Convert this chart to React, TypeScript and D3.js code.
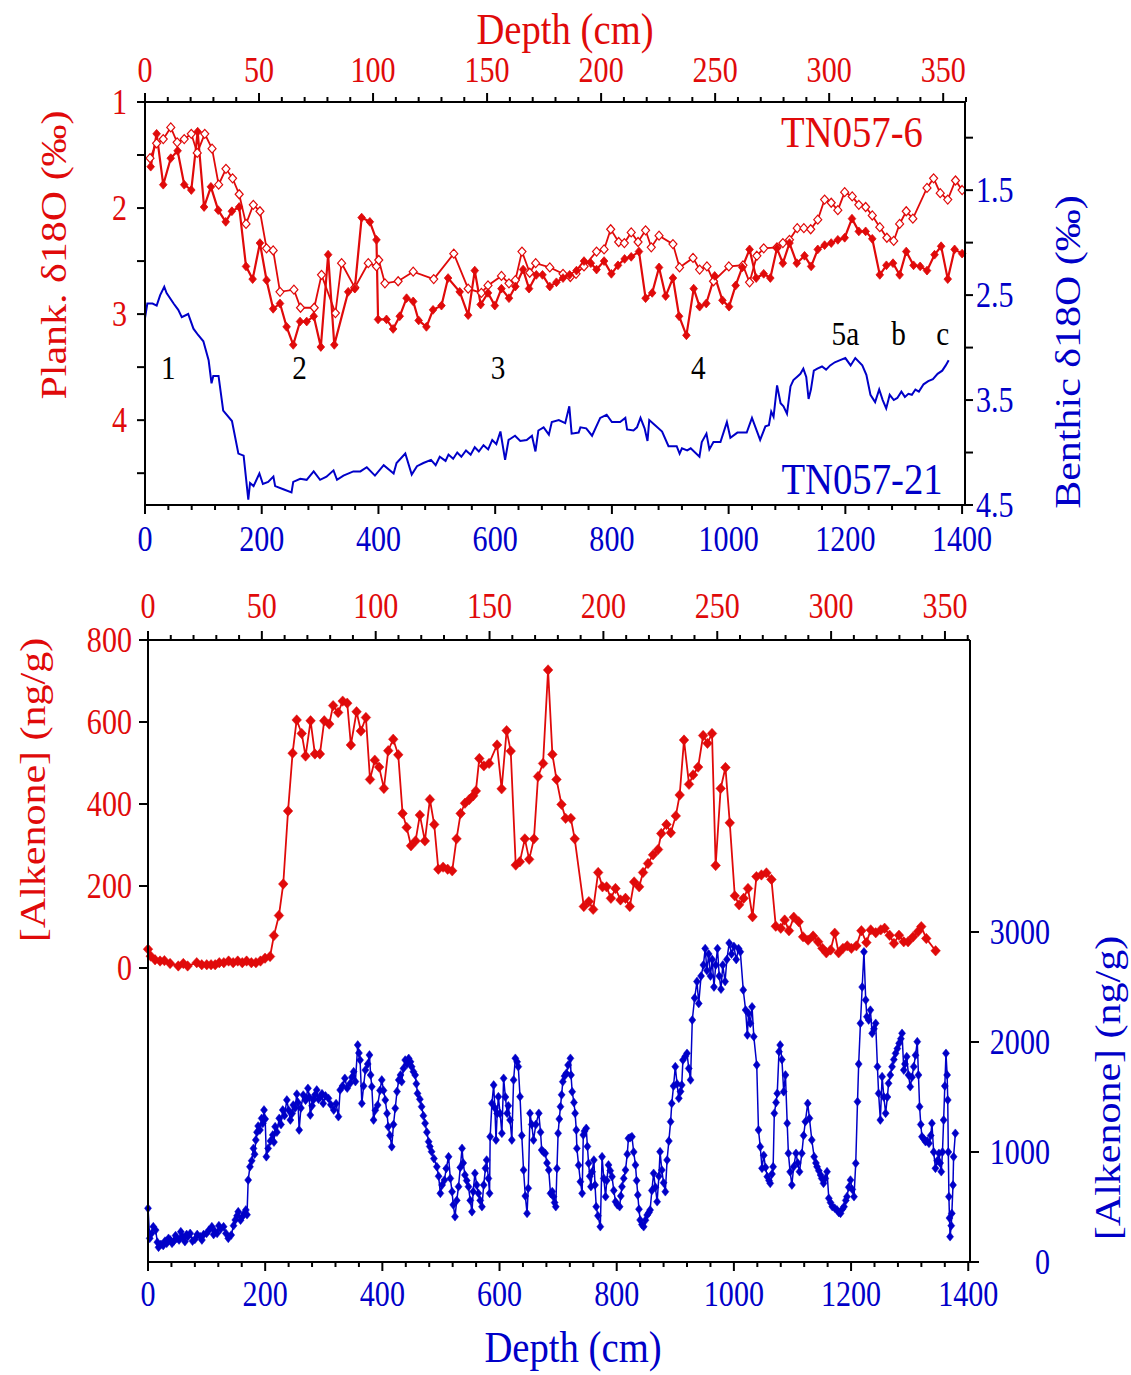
import React from "react";
import * as d3 from "d3";

// ---------- DATA ----------
// Top panel, TN057-6 planktonic δ18O (depth cm on top axis, ‰)
const plankFilled: [number, number][] = [
  [2.5,1.61],[5.1,1.30],[8.0,1.78],[11.3,1.53],[14.3,1.46],[17.2,1.78],[20.3,1.83],[23.1,1.28],[25.9,1.99],[28.9,1.80],
  [32.1,2.02],[35.4,2.13],[38.1,2.03],[41.3,1.99],[44.3,2.55],[47.2,2.67],[50.4,2.33],[53.3,2.68],[56.2,2.95],[59.2,2.90],
  [62.1,3.12],[65.0,3.29],[68.0,3.07],[70.9,3.07],[74.0,3.02],[77.1,3.31],[80.3,2.44],[83.0,3.29],[89.1,2.79],[92.0,2.76],
  [95.0,2.09],[98.6,2.13],[101.5,2.30],[102.2,3.05],[105.9,3.05],[108.8,3.14],[111.7,3.02],[114.7,2.85],[117.6,2.88],[120.0,3.06],
  [123.4,3.12],[126.3,2.96],[130,2.92],[132.9,2.66],[138,2.79],[141.7,3.01],[144.6,2.59],[147.2,2.91],[150.4,2.80],[153.4,2.92],
  [156.3,2.76],[159.6,2.85],[162.4,2.74],[165.8,2.58],[168.4,2.76],[171.6,2.63],[174.3,2.63],[177.5,2.74],[180.4,2.70],[183.3,2.66],
  [186.2,2.63],[189.2,2.59],[192.5,2.50],[195.5,2.52],[198,2.58],[201.3,2.50],[204.5,2.62],[207.4,2.54],[210.3,2.48],[213.2,2.46],
  [216.6,2.41],[219.5,2.85],[222.4,2.80],[225.4,2.56],[228.3,2.83],[231.5,2.66],[234.2,3.02],[237.4,3.20],[240.6,2.76],[243.2,2.93],
  [246.1,2.90],[249.8,2.64],[253.2,2.87],[256.1,2.93],[259,2.73],[261.9,2.56],[265.1,2.39],[268,2.66],[271.3,2.62],[274.2,2.66],
  [277.1,2.38],[279.7,2.52],[282.6,2.33],[285.8,2.52],[289.2,2.45],[292.1,2.55],[295,2.39],[298,2.35],[300.9,2.33],[303.8,2.30],
  [306.8,2.28],[310,2.10],[313,2.22],[316,2.22],[318.9,2.29],[322.2,2.63],[325.1,2.54],[328,2.52],[330.9,2.63],[333.8,2.41],
  [337,2.54],[339.9,2.55],[342.9,2.59],[346.2,2.44],[349.1,2.36],[352,2.67],[355,2.39],[358.3,2.43]
];
const plankOpen: [number, number][] = [
  [2.2,1.53],[5.1,1.39],[8.0,1.35],[11.3,1.24],[14.1,1.38],[17.2,1.35],[20.3,1.30],[22.9,1.48],[26.2,1.30],[29.4,1.44],
  [32.3,1.78],[35.5,1.63],[38.4,1.72],[41.3,1.87],[44.3,2.15],[47.5,1.97],[50.4,2.03],[53.3,2.38],[56.2,2.40],[59.2,2.79],
  [65.3,2.77],[68.2,2.94],[74.2,2.94],[77.4,2.63],[83.5,2.99],[86.2,2.52],[92.0,2.75],[97.9,2.52],[101.5,2.55],[102.5,2.49],
  [105.2,2.71],[111.0,2.69],[117.6,2.60],[126.6,2.67],[135.4,2.43],[141.7,2.76],[147.5,2.80],[150.4,2.73],[156.3,2.64],[159.6,2.71],
  [162.4,2.68],[165.3,2.41],[168.7,2.61],[171.3,2.52],[177.5,2.56],[183.3,2.62],[186.5,2.65],[189,2.62],[192.5,2.55],[198,2.41],
  [201.3,2.39],[204.2,2.20],[207.7,2.32],[210.2,2.33],[213.2,2.23],[216.2,2.32],[219.5,2.21],[222,2.37],[225.4,2.26],[231.5,2.34],
  [234.4,2.56],[240.3,2.47],[243.2,2.58],[246.4,2.55],[249.3,2.69],[256,2.55],[262.2,2.54],[265.1,2.70],[268.3,2.45],[271.3,2.38],
  [277.1,2.37],[279.7,2.33],[282.6,2.30],[286,2.19],[288.9,2.19],[291.9,2.20],[295,2.11],[298,1.92],[300.9,1.95],[303.8,2.02],
  [306.8,1.85],[310.1,1.89],[313,1.97],[316,1.99],[318.9,2.07],[322.2,2.18],[325.3,2.28],[328.3,2.31],[330.9,2.15],[333.8,2.03],
  [336.7,2.10],[342.9,1.81],[345.8,1.72],[348.7,1.86],[352,1.92],[355.4,1.74],[358.3,1.83]
];
// Top panel, TN057-21 benthic δ18O (depth cm on bottom axis, ‰)
const benthic: [number, number][] = [
  [0,2.72],[4,2.58],[13,2.58],[20,2.60],[26,2.50],[33,2.42],[37,2.48],[49,2.58],[57,2.64],[63,2.71],[74,2.68],[83,2.82],
  [91,2.88],[100,2.94],[109,3.12],[114,3.34],[117,3.27],[126,3.27],[134,3.60],[149,3.70],[160,4.01],[169,4.03],[177,4.45],
  [180,4.29],[186,4.32],[196,4.20],[202,4.30],[211,4.28],[220,4.23],[223,4.32],[237,4.35],[251,4.38],[254,4.28],[266,4.25],
  [277,4.26],[289,4.18],[300,4.26],[311,4.23],[323,4.17],[329,4.26],[340,4.22],[357,4.18],[369,4.18],[380,4.14],[394,4.22],
  [409,4.12],[426,4.20],[431,4.10],[446,4.01],[457,4.21],[466,4.13],[477,4.10],[490,4.07],[498,4.12],[505,4.04],[515,4.08],
  [520,4.02],[528,4.06],[535,4.00],[542,4.04],[550,3.98],[558,4.02],[565,3.95],[572,3.99],[580,3.93],[588,3.97],[595,3.88],
  [602,3.92],[609,3.80],[617,4.07],[623,3.88],[634,3.84],[643,3.89],[654,3.88],[663,3.84],[669,3.99],[674,3.79],[683,3.76],
  [692,3.83],[697,3.71],[709,3.69],[720,3.72],[727,3.56],[731,3.82],[743,3.81],[746,3.76],[756,3.77],[766,3.84],[780,3.67],
  [791,3.64],[800,3.71],[814,3.71],[823,3.67],[826,3.78],[837,3.79],[843,3.76],[849,3.67],[856,3.77],[861,3.89],[864,3.69],
  [874,3.74],[886,3.80],[897,3.94],[911,3.94],[916,4.01],[920,3.96],[929,3.98],[935,3.96],[950,4.04],[954,3.90],[962,3.82],
  [967,3.97],[974,3.90],[986,3.90],[997,3.71],[1003,3.86],[1015,3.81],[1031,3.81],[1040,3.67],[1054,3.88],[1063,3.75],
  [1069,3.74],[1073,3.61],[1077,3.66],[1083,3.36],[1089,3.53],[1094,3.56],[1100,3.63],[1106,3.37],[1111,3.31],[1117,3.28],
  [1123,3.25],[1128,3.20],[1133,3.28],[1137,3.49],[1141,3.40],[1146,3.22],[1152,3.20],[1160,3.18],[1167,3.21],[1174,3.17],
  [1182,3.14],[1191,3.12],[1200,3.10],[1209,3.17],[1217,3.10],[1229,3.17],[1236,3.26],[1243,3.45],[1251,3.52],[1258,3.40],
  [1264,3.50],[1270,3.58],[1276,3.45],[1283,3.50],[1289,3.48],[1296,3.42],[1302,3.47],[1308,3.44],[1314,3.45],[1320,3.40],
  [1326,3.42],[1334,3.35],[1342,3.32],[1350,3.30],[1358,3.25],[1366,3.22],[1372,3.17],[1377,3.12]
];
// Bottom panel, TN057-6 alkenone (depth cm on top axis, ng/g)
const alkRed: [number, number][] = [
  [0,46],[1.2,29],[3.1,20],[5.3,17],[7.2,18],[9.7,11],[13.3,5],[15.5,11],[17.4,5],[21.4,13],[23.6,8],[25.8,8],[27.7,8],
  [29.5,8],[31.3,13],[33.3,13],[35.4,17],[37.4,13],[39.4,17],[41.4,13],[43.3,17],[45.4,13],[47.4,13],[49.4,17],[51.4,24],
  [53.6,28],[55.3,79],[57.5,128],[59.4,205],[61.5,383],[63.5,524],[65.3,605],[67.5,572],[69.2,517],[71.4,603],[73.3,522],
  [75.5,522],[77.4,603],[79.6,595],[81.3,640],[83.5,623],[85.5,651],[87.5,646],[89.1,544],[91.6,625],[93.5,578],[95.7,611],
  [97.5,460],[99.6,507],[101.5,490],[103.6,438],[105.5,530],[107.7,558],[109.9,520],[111.8,377],[113.6,343],[115.5,298],
  [117.5,310],[119.4,373],[121.6,310],[123.8,411],[125.7,350],[127.5,241],[129.6,246],[131.6,241],[133.6,237],[135.5,315],
  [137.3,377],[139.2,402],[141.1,411],[142.8,420],[144,432],[145.5,511],[147.5,493],[149.8,499],[153.3,544],[155.3,437],
  [157.5,579],[159.3,529],[161.5,251],[163.3,259],[165.5,315],[167.4,265],[169.5,315],[171.3,467],[173.5,499],[175.7,727],
  [177.6,521],[179.4,460],[181.6,399],[183.4,365],[185.7,365],[187.4,315],[191.4,150],[193.6,162],[195.5,143],[197.7,233],
  [199.6,198],[201.4,198],[203.3,170],[205.3,194],[207.5,166],[209.7,170],[211.6,150],[213.5,210],[215.7,198],[217.4,233],
  [219.6,255],[221.8,276],[224,289],[225.4,328],[227.7,350],[229.6,330],[231.8,371],[233.5,422],[235.4,556],[237.6,448],
  [239.4,471],[241.6,490],[243.8,567],[245.7,548],[247.7,572],[249.3,250],[251.5,438],[253.6,489],[255.5,354],[257.7,176],
  [259.6,154],[261.6,170],[263.5,194],[265.5,125],[267.2,223],[269.4,227],[271.6,232],[273.8,216],[275.7,102],[277.9,97],
  [279.6,117],[281.5,91],[283.6,124],[285.8,113],[287.7,76],[289.9,68],[292.1,78],[294.3,64],[296.2,48],[297.9,37],
  [299.8,44],[301.6,85],[303.3,37],[305.2,48],[307.1,54],[308.9,48],[311.1,54],[313.3,91],[315.5,62],[317.4,93],[319.6,86],
  [321.8,93],[323.5,97],[325.7,80],[327.6,60],[329.8,80],[331.9,64],[333.8,64],[336,76],[338.2,89],[339.6,101],[341.8,72],
  [345.9,42]
];
// Bottom panel, TN057-21 alkenone (depth cm on bottom axis, ng/g)
const alkBlue: [number, number][] = [
  [0,488],[3,215],[6,260],[9,321],[13,290],[16,180],[18,134],[22,160],[26,150],[29,190],[32,170],[35,215],[38,200],[41,170],
  [44,190],[47,240],[49,215],[53,200],[56,275],[59,230],[63,185],[66,250],[68,230],[72,260],[76,190],[80,205],[84,250],[89,230],
  [92,200],[95,250],[100,260],[104,290],[109,321],[112,250],[114,280],[118,260],[121,330],[124,300],[129,321],[133,260],[137,215],
  [142,245],[146,330],[149,382],[152,420],[154,457],[158,380],[161,412],[164,440],[167,473],[169,430],[171,745],[174,866],[177,920],
  [180,1033],[182,980],[184,1109],[186,1180],[188,1236],[191,1200],[194,1306],[196,1260],[198,1382],[200,1300],[202,957],
  [205,1033],[209,1100],[213,1155],[215,1090],[217,1230],[220,1180],[224,1306],[227,1250],[230,1382],[233,1330],[237,1473],
  [240,1380],[243,1291],[246,1350],[248,1427],[251,1400],[254,1527],[256,1450],[258,1200],[261,1400],[265,1518],[269,1470],
  [273,1579],[275,1500],[277,1336],[280,1420],[282,1473],[285,1520],[288,1564],[291,1480],[294,1503],[297,1530],[299,1442],
  [303,1510],[308,1488],[312,1430],[317,1382],[321,1440],[325,1321],[328,1564],[332,1600],[336,1670],[340,1580],[345,1624],
  [348,1680],[351,1730],[354,1640],[358,1973],[360,1900],[362,1836],[365,1442],[368,1600],[371,1745],[375,1800],[378,1882],
  [380,1700],[382,1594],[385,1291],[388,1380],[392,1427],[396,1560],[399,1655],[402,1560],[405,1473],[408,1350],[410,1230],
  [413,1150],[416,1048],[419,1250],[422,1397],[425,1550],[428,1655],[431,1700],[433,1639],[436,1760],[439,1836],[442,1800],
  [445,1851],[448,1820],[450,1776],[453,1730],[456,1700],[458,1620],[460,1533],[464,1480],[467,1412],[470,1330],[473,1261],
  [476,1180],[479,1094],[481,1050],[484,1003],[488,940],[493,866],[496,780],[499,624],[502,700],[506,745],[509,850],[513,957],
  [516,760],[519,639],[521,520],[524,412],[527,560],[530,685],[533,860],[536,1033],[538,900],[541,791],[544,740],[547,685],
  [550,560],[553,457],[555,640],[558,806],[561,700],[564,624],[567,560],[570,503],[573,700],[576,852],[578,927],[581,760],
  [583,624],[584,1139],[587,1442],[590,1609],[592,1400],[594,1109],[596,1350],[598,1503],[601,1350],[604,1170],[607,1670],
  [610,1500],[613,1352],[615,1420],[618,1291],[621,1109],[624,1655],[627,1852],[630,1820],[632,1776],[635,1503],[638,1150],
  [641,836],[644,600],[647,442],[649,670],[652,1352],[655,1250],[658,1109],[662,1250],[667,1352],[670,1180],[672,1018],
  [675,1000],[678,988],[681,900],[684,836],[687,624],[690,640],[692,594],[694,540],[696,503],[698,850],[700,1170],[702,1300],
  [704,1412],[706,1520],[708,1639],[711,1690],[714,1715],[717,1790],[721,1852],[722,1700],[724,1548],[727,1450],[729,1352],
  [731,1200],[732,1033],[735,880],[738,730],[741,624],[743,1155],[745,1190],[748,1215],[750,1050],[752,897],[754,780],[756,685],
  [758,820],[761,927],[763,700],[765,503],[768,420],[772,321],[775,957],[778,760],[781,594],[783,740],[786,882],[789,830],
  [792,776],[795,650],[798,548],[801,520],[805,503],[807,600],[809,685],[812,760],[815,836],[818,980],[820,1124],[823,1130],
  [826,1139],[829,1000],[832,882],[834,740],[836,609],[838,480],[840,382],[843,340],[846,321],[849,380],[852,427],[855,450],
  [857,473],[860,650],[863,806],[866,680],[869,548],[872,780],[874,1003],[877,836],[880,720],[883,639],[886,927],[889,1100],
  [892,1276],[894,1442],[897,1600],[900,1776],[903,1620],[906,1488],[909,1550],[911,1609],[913,1836],[917,1870],[920,1897],
  [923,1760],[926,1655],[929,2200],[933,2400],[937,2550],[940,2350],[944,2600],[948,2700],[951,2850],[954,2650],[957,2800],
  [960,2600],[963,2750],[966,2500],[969,2700],[972,2850],[975,2600],[978,2480],[981,2700],[985,2550],[988,2750],[992,2900],
  [996,2800],[1000,2870],[1004,2750],[1008,2850],[1011,2820],[1016,2473],[1020,2291],[1023,2064],[1025,2261],[1028,2170],
  [1031,2320],[1034,2049],[1039,1791],[1042,1200],[1045,1048],[1048,852],[1051,970],[1054,860],[1057,776],[1060,740],
  [1062,715],[1065,800],[1067,866],[1069,1352],[1072,1450],[1074,1533],[1077,1912],[1079,1973],[1082,1840],[1085,1548],
  [1088,1700],[1091,1261],[1093,988],[1096,820],[1099,700],[1102,866],[1106,988],[1109,900],[1112,821],[1116,988],[1119,1150],
  [1122,1276],[1126,1442],[1129,1306],[1133,1109],[1137,957],[1140,900],[1142,866],[1145,830],[1148,791],[1150,760],
  [1153,715],[1156,760],[1159,821],[1162,579],[1165,540],[1168,503],[1172,490],[1176,473],[1179,450],[1182,442],[1185,480],
  [1188,503],[1191,560],[1193,594],[1196,680],[1199,745],[1202,660],[1205,594],[1208,897],[1211,1458],[1213,1800],[1216,2170],
  [1219,2500],[1222,2820],[1225,2382],[1227,2230],[1230,2200],[1233,2290],[1236,2079],[1239,2120],[1242,2170],[1245,1776],
  [1247,1533],[1250,1291],[1253,1685],[1256,1500],[1259,1352],[1262,1500],[1264,1624],[1267,1700],[1270,1776],[1273,1840],
  [1276,1897],[1279,1940],[1282,1988],[1285,2030],[1287,2079],[1290,1745],[1292,1800],[1295,1867],[1298,1700],[1301,1594],
  [1304,1680],[1307,1776],[1310,1880],[1313,2003],[1315,1700],[1317,1412],[1319,1250],[1321,1139],[1324,1120],[1327,1094],
  [1330,1100],[1333,1079],[1336,1150],[1338,1261],[1341,1000],[1344,852],[1347,920],[1350,988],[1352,900],[1354,821],
  [1356,1000],[1358,1291],[1360,1600],[1362,1897],[1364,1700],[1365,1473],[1366,1000],[1367,594],[1368,400],[1369,230],
  [1371,330],[1372,442],[1374,700],[1375,957],[1378,1170]
];

// stage labels in top panel (depth on bottom axis, value on left axis)
const stageLabels: { t: string; d: number; v: number }[] = [
  { t: "1", d: 40, v: 3.5 }, { t: "2", d: 265, v: 3.5 }, { t: "3", d: 605, v: 3.5 }, { t: "4", d: 948, v: 3.5 },
  { t: "5a", d: 1200, v: 3.18 }, { t: "b", d: 1291, v: 3.18 }, { t: "c", d: 1367, v: 3.18 }
];

const topTicksCm = [0, 50, 100, 150, 200, 250, 300, 350];
const botTicksCm = [0, 200, 400, 600, 800, 1000, 1200, 1400];
const plankTicks = [1, 2, 3, 4];
const benthicTicks = [1.5, 2.5, 3.5, 4.5];
const alkRedTicks = [0, 200, 400, 600, 800];
const alkBlueTicks = [0, 1000, 2000, 3000];

// ---------- STYLE ----------
const RED = "#e00a0a";
const BLUE = "#0000c8";
const FONT = "'Liberation Serif', 'Times New Roman', serif";
const SX = 0.86;

function T(props: { x: number; y: number; size: number; fill: string; anchor?: string; children: React.ReactNode }) {
  const { x, y, size, fill, anchor = "middle", children } = props;
  return (
    <text transform={`translate(${x},${y}) scale(${SX},1)`} fontSize={size} fill={fill} textAnchor={anchor} fontFamily={FONT}>
      {children}
    </text>
  );
}
function RT(props: { x: number; y: number; size: number; fill: string; children: React.ReactNode }) {
  const { x, y, size, fill, children } = props;
  return (
    <text transform={`translate(${x},${y}) rotate(-90) scale(1,${SX})`} fontSize={size} fill={fill} textAnchor="middle" fontFamily={FONT}>
      {children}
    </text>
  );
}
function diamond(cx: number, cy: number, w: number, h: number) {
  return `M${cx},${cy - h}L${cx + w},${cy}L${cx},${cy + h}L${cx - w},${cy}Z`;
}

export default function App() {
  // top panel scales
  const L1 = 145, R1 = 965, T1 = 102, B1 = 505;
  const xTop1 = d3.scaleLinear().domain([0, 360]).range([L1, 966]);
  const xBot1 = d3.scaleLinear().domain([0, 1405]).range([L1, R1]);
  const yL1 = d3.scaleLinear().domain([1, 4.8]).range([T1, B1]);
  const yR1 = d3.scaleLinear().domain([0.66, 4.5]).range([T1, B1]);
  // bottom panel scales
  const L2 = 148, R2 = 970, T2 = 640, B2 = 1262;
  const xTop2 = d3.scaleLinear().domain([0, 361]).range([L2, R2]);
  const xBot2 = d3.scaleLinear().domain([0, 1403]).range([L2, R2]);
  const yL2 = d3.scaleLinear().domain([-717, 800]).range([B2, T2]);
  const yR2 = d3.scaleLinear().domain([0, 5655]).range([B2, T2]);

  const line = (xs: d3.ScaleLinear<number, number>, ys: d3.ScaleLinear<number, number>) =>
    d3.line<[number, number]>().x((d) => xs(d[0])).y((d) => ys(d[1]));

  const minorTicks = (start: number, stop: number, step: number) => d3.range(start, stop + 1e-9, step);

  const axisColor = "#000";
  const sw = 2;

  return (
    <svg width={1131} height={1375} style={{ position: "absolute", left: 0, top: 0, background: "#fff" }}>
      <rect x={0} y={0} width={1131} height={1375} fill="#fff" />
      {/* ================= TOP PANEL ================= */}
      <g>
        <path d={line(xBot1, yR1)(benthic) || ""} fill="none" stroke={BLUE} strokeWidth={2} />
        <path d={line(xTop1, yL1)(plankOpen) || ""} fill="none" stroke={RED} strokeWidth={1.8} />
        <path d={line(xTop1, yL1)(plankFilled) || ""} fill="none" stroke={RED} strokeWidth={2.2} />
        {plankOpen.map((d, i) => (
          <path key={"o" + i} d={diamond(xTop1(d[0]), yL1(d[1]), 4, 4.5)} fill="#fff" stroke={RED} strokeWidth={1.2} />
        ))}
        {plankFilled.map((d, i) => (
          <path key={"f" + i} d={diamond(xTop1(d[0]), yL1(d[1]), 3.8, 4.4)} fill={RED} stroke={RED} strokeWidth={0.8} />
        ))}
        {/* frame */}
        <line x1={L1} y1={T1} x2={R1} y2={T1} stroke={axisColor} strokeWidth={sw} />
        <line x1={L1} y1={B1} x2={R1} y2={B1} stroke={axisColor} strokeWidth={sw} />
        <line x1={L1} y1={T1} x2={L1} y2={B1} stroke={axisColor} strokeWidth={sw} />
        <line x1={R1} y1={T1} x2={R1} y2={B1} stroke={axisColor} strokeWidth={sw} />
        {minorTicks(0, 360, 10).map((v) => (
          <line key={"tt" + v} x1={xTop1(v)} x2={xTop1(v)} y1={T1} y2={T1 - (v % 50 === 0 ? 9 : 5)} stroke={axisColor} strokeWidth={sw} />
        ))}
        {topTicksCm.map((v) => (
          <T key={"ttl" + v} x={xTop1(v)} y={T1 - 20} size={35} fill={RED}>{v}</T>
        ))}
        {minorTicks(0, 1400, 40).map((v) => (
          <line key={"bt" + v} x1={xBot1(v)} x2={xBot1(v)} y1={B1} y2={B1 + (v % 200 === 0 ? 9 : 5)} stroke={axisColor} strokeWidth={sw} />
        ))}
        {botTicksCm.map((v) => (
          <T key={"btl" + v} x={xBot1(v)} y={B1 + 46} size={35} fill={BLUE}>{v}</T>
        ))}
        {minorTicks(1, 4.5, 0.5).map((v) => (
          <line key={"lt" + v} x1={L1} x2={L1 - 8} y1={yL1(v)} y2={yL1(v)} stroke={axisColor} strokeWidth={sw} />
        ))}
        {plankTicks.map((v) => (
          <T key={"ltl" + v} x={L1 - 18} y={yL1(v) + 12} size={35} fill={RED} anchor="end">{v}</T>
        ))}
        {minorTicks(1.0, 4.5, 0.5).map((v) => (
          <line key={"rt" + v} x1={R1} x2={R1 + 8} y1={yR1(v)} y2={yR1(v)} stroke={axisColor} strokeWidth={sw} />
        ))}
        {benthicTicks.map((v) => (
          <T key={"rtl" + v} x={R1 + 11} y={yR1(v) + 12} size={35} fill={BLUE} anchor="start">{v}</T>
        ))}
        <T x={565} y={44} size={45} fill={RED}>Depth (cm)</T>
        <RT x={66} y={255} size={42} fill={RED}>Plank. δ18O (‰)</RT>
        <RT x={1080} y={352} size={42} fill={BLUE}>Benthic δ18O (‰)</RT>
        <T x={852} y={147} size={45} fill={RED}>TN057-6</T>
        <T x={862} y={494} size={45} fill={BLUE}>TN057-21</T>
        {stageLabels.map((s) => (
          <T key={"s" + s.t} x={xBot1(s.d)} y={yL1(s.v) + 12} size={34} fill="#000">{s.t}</T>
        ))}
      </g>

      {/* ================= BOTTOM PANEL ================= */}
      <g>
        <path d={line(xBot2, yR2)(alkBlue) || ""} fill="none" stroke={BLUE} strokeWidth={1.5} />
        {alkBlue.map((d, i) => (
          <path key={"b" + i} d={diamond(xBot2(d[0]), yR2(d[1]), 3.5, 4.4)} fill={BLUE} stroke={BLUE} strokeWidth={0.5} />
        ))}
        <path d={line(xTop2, yL2)(alkRed) || ""} fill="none" stroke={RED} strokeWidth={1.8} />
        {alkRed.map((d, i) => (
          <path key={"r" + i} d={diamond(xTop2(d[0]), yL2(d[1]), 4.8, 5.2)} fill={RED} stroke={RED} strokeWidth={0.5} />
        ))}
        <line x1={L2} y1={T2} x2={R2} y2={T2} stroke={axisColor} strokeWidth={sw} />
        <line x1={L2} y1={B2} x2={R2} y2={B2} stroke={axisColor} strokeWidth={sw} />
        <line x1={L2} y1={T2} x2={L2} y2={B2} stroke={axisColor} strokeWidth={sw} />
        <line x1={R2} y1={T2} x2={R2} y2={B2} stroke={axisColor} strokeWidth={sw} />
        {minorTicks(0, 360, 10).map((v) => (
          <line key={"tt2" + v} x1={xTop2(v)} x2={xTop2(v)} y1={T2} y2={T2 - (v % 50 === 0 ? 9 : 5)} stroke={axisColor} strokeWidth={sw} />
        ))}
        {topTicksCm.map((v) => (
          <T key={"ttl2" + v} x={xTop2(v)} y={T2 - 22} size={35} fill={RED}>{v}</T>
        ))}
        {minorTicks(0, 1400, 40).map((v) => (
          <line key={"bt2" + v} x1={xBot2(v)} x2={xBot2(v)} y1={B2} y2={B2 + (v % 200 === 0 ? 9 : 5)} stroke={axisColor} strokeWidth={sw} />
        ))}
        {botTicksCm.map((v) => (
          <T key={"btl2" + v} x={xBot2(v)} y={B2 + 44} size={35} fill={BLUE}>{v}</T>
        ))}
        {alkRedTicks.map((v) => (
          <line key={"lt2" + v} x1={L2} x2={L2 - 9} y1={yL2(v)} y2={yL2(v)} stroke={axisColor} strokeWidth={sw} />
        ))}
        {alkRedTicks.map((v) => (
          <T key={"ltl2" + v} x={L2 - 16} y={yL2(v) + 12} size={35} fill={RED} anchor="end">{v}</T>
        ))}
        {alkBlueTicks.map((v) => (
          <line key={"rt2" + v} x1={R2} x2={R2 + 9} y1={yR2(v)} y2={yR2(v)} stroke={axisColor} strokeWidth={sw} />
        ))}
        {alkBlueTicks.map((v) => (
          <T key={"rtl2" + v} x={1050} y={yR2(v) + 12} size={35} fill={BLUE} anchor="end">{v}</T>
        ))}
        <T x={573} y={1362} size={45} fill={BLUE}>Depth (cm)</T>
        <RT x={45} y={790} size={42} fill={RED}>[Alkenone] (ng/g)</RT>
        <RT x={1120} y={1088} size={42} fill={BLUE}>[Alkenone] (ng/g)</RT>
      </g>
    </svg>
  );
}
